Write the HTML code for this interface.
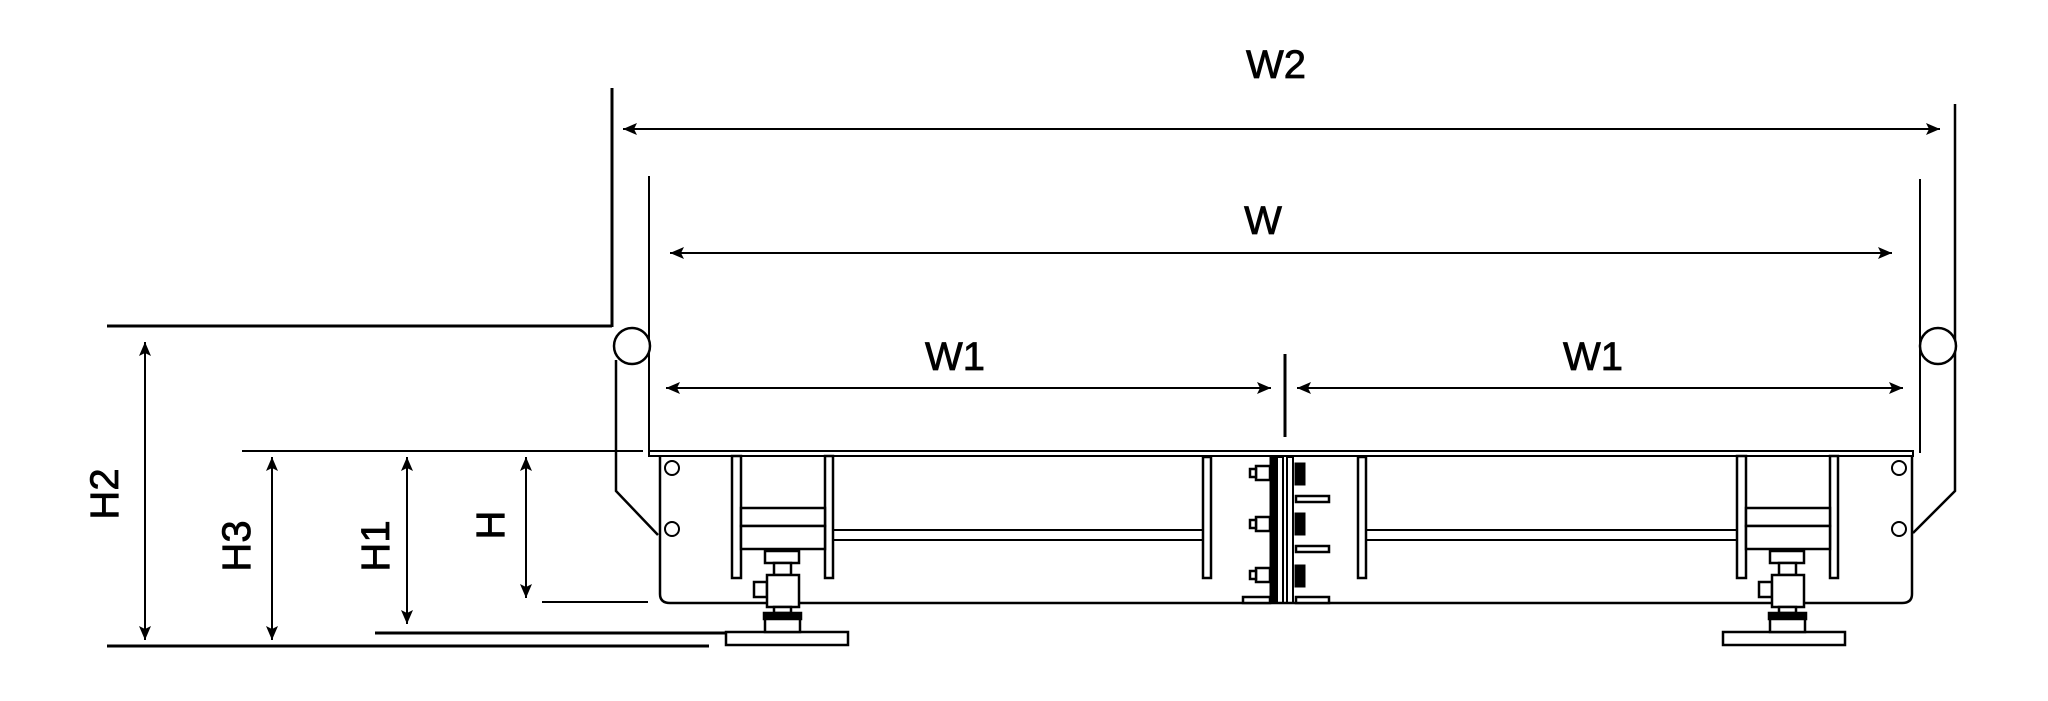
<!DOCTYPE html>
<html><head><meta charset="utf-8"><style>
html,body{margin:0;padding:0;background:#fff;}
svg{display:block}
text{font-family:"Liberation Sans",sans-serif;font-size:40px;fill:#000;stroke:#000;stroke-width:0.8px;}
</style></head><body>
<svg width="2048" height="701" viewBox="0 0 2048 701" xmlns="http://www.w3.org/2000/svg">
<defs>
<marker id="a" viewBox="0 0 14 12" refX="14" refY="6" markerWidth="14" markerHeight="12" markerUnits="userSpaceOnUse" orient="auto-start-reverse"><path d="M0,0 L14,6 L0,12 L3,6 z" fill="#000"/></marker>
<g id="jack" fill="#fff" stroke="#000" stroke-width="2.5">
  <rect x="732" y="456" width="9" height="122"/>
  <rect x="825" y="456" width="8" height="122"/>
  <rect x="741" y="508" width="84" height="18"/>
  <rect x="741" y="526" width="84" height="23"/>
  <rect x="765" y="551" width="34" height="12"/>
  <rect x="774" y="563" width="17" height="12"/>
  <rect x="754" y="582" width="13" height="15"/>
  <rect x="767" y="575" width="32" height="32"/>
  <rect x="774" y="607" width="17" height="6"/>
  <rect x="764" y="613" width="37" height="6" fill="#000"/>
  <rect x="765" y="619" width="35" height="13"/>
</g>
</defs>
<g fill="none" stroke="#000">
<line x1="612" y1="88" x2="612" y2="327" stroke-width="3"/>
<line x1="107" y1="326" x2="612" y2="326" stroke-width="3"/>
<polyline points="1955,104 1955,491 1913,533" stroke-width="2.5"/>
<line x1="623" y1="129" x2="1940" y2="129" stroke-width="2" marker-start="url(#a)" marker-end="url(#a)"/>
<line x1="649" y1="176" x2="649" y2="453" stroke-width="2"/>
<line x1="1920" y1="179" x2="1920" y2="453" stroke-width="2"/>
<line x1="670" y1="253" x2="1892" y2="253" stroke-width="2" marker-start="url(#a)" marker-end="url(#a)"/>
<line x1="666" y1="388" x2="1271" y2="388" stroke-width="2" marker-start="url(#a)" marker-end="url(#a)"/>
<line x1="1297" y1="388" x2="1903" y2="388" stroke-width="2" marker-start="url(#a)" marker-end="url(#a)"/>
<line x1="1285" y1="354" x2="1285" y2="437" stroke-width="3"/>
<polyline points="616,360 616,491 658,535" stroke-width="2.5"/>
<circle cx="632" cy="346" r="18" fill="#fff" stroke-width="2.5"/>
<circle cx="1938" cy="346" r="18" fill="#fff" stroke-width="2.5"/>
<rect x="649" y="451" width="1264" height="5" stroke-width="2"/>
<path d="M660,456 L660,594 Q660,603 670,603 L1902,603 Q1912,603 1912,594 L1912,456" stroke-width="2.5"/>
<line x1="833" y1="530" x2="1203" y2="530" stroke-width="2"/>
<line x1="833" y1="540" x2="1203" y2="540" stroke-width="2"/>
<line x1="1366" y1="530" x2="1737" y2="530" stroke-width="2"/>
<line x1="1366" y1="540" x2="1737" y2="540" stroke-width="2"/>
<circle cx="672" cy="468" r="7" stroke-width="2"/>
<circle cx="672" cy="529" r="7" stroke-width="2"/>
<circle cx="1899" cy="468" r="7" stroke-width="2"/>
<circle cx="1899" cy="529" r="7" stroke-width="2"/>
<rect x="1203" y="457" width="8" height="121" stroke-width="2.5"/>
<rect x="1358" y="457" width="8" height="121" stroke-width="2.5"/>
<rect x="1270" y="457" width="7" height="146" fill="#000" stroke-width="1"/>
<rect x="1277" y="457" width="6" height="146" stroke-width="2"/>
<rect x="1287" y="457" width="6" height="146" stroke-width="2"/>
<g stroke-width="2.5" fill="#fff">
<rect x="1256" y="466" width="14" height="14"/><rect x="1250" y="469" width="6" height="8"/>
<rect x="1256" y="517" width="14" height="14"/><rect x="1250" y="520" width="6" height="8"/>
<rect x="1256" y="568" width="14" height="14"/><rect x="1250" y="571" width="6" height="8"/>
<rect x="1296" y="496" width="33" height="6"/>
<rect x="1296" y="546" width="33" height="6"/>
<rect x="1243" y="597" width="27" height="6"/>
<rect x="1296" y="597" width="33" height="6"/>
</g>
<rect x="1295" y="463" width="10" height="22" fill="#000"/>
<rect x="1295" y="513" width="10" height="22" fill="#000"/>
<rect x="1295" y="565" width="10" height="22" fill="#000"/>
<rect x="726" y="632" width="122" height="13" stroke-width="2.5"/>
<rect x="1723" y="632" width="122" height="13" stroke-width="2.5"/>
<line x1="242" y1="451" x2="643" y2="451" stroke-width="2"/>
<line x1="542" y1="602" x2="648" y2="602" stroke-width="2"/>
<line x1="375" y1="633" x2="726" y2="633" stroke-width="3"/>
<line x1="107" y1="646" x2="709" y2="646" stroke-width="3"/>
<line x1="145" y1="342" x2="145" y2="640" stroke-width="2" marker-start="url(#a)" marker-end="url(#a)"/>
<line x1="272" y1="457" x2="272" y2="640" stroke-width="2" marker-start="url(#a)" marker-end="url(#a)"/>
<line x1="407" y1="457" x2="407" y2="624" stroke-width="2" marker-start="url(#a)" marker-end="url(#a)"/>
<line x1="526" y1="457" x2="526" y2="598" stroke-width="2" marker-start="url(#a)" marker-end="url(#a)"/>
</g>
<use href="#jack"/>
<use href="#jack" transform="translate(1005,0)"/>
<text x="1276" y="78" text-anchor="middle">W2</text>
<text x="1263" y="234" text-anchor="middle">W</text>
<text x="955" y="370" text-anchor="middle">W1</text>
<text x="1593" y="370" text-anchor="middle">W1</text>
<text transform="translate(118,494) rotate(-90)" text-anchor="middle">H2</text>
<text transform="translate(250,546) rotate(-90)" text-anchor="middle">H3</text>
<text transform="translate(389,546) rotate(-90)" text-anchor="middle">H1</text>
<text transform="translate(504,525) rotate(-90)" text-anchor="middle">H</text>
</svg>
</body></html>
